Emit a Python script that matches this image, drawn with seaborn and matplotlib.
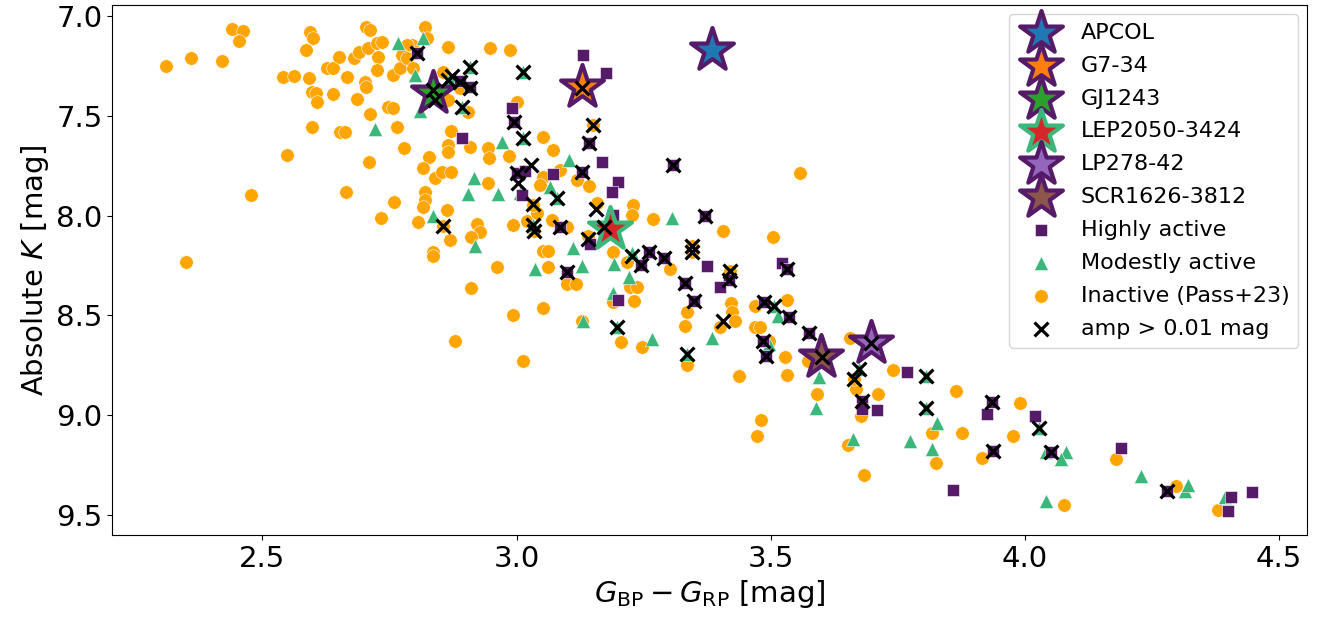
import numpy as np
import pandas as pd
import matplotlib
matplotlib.use("Agg")
import matplotlib.pyplot as plt
import seaborn as sns

# ---- data ----
inactive_bprp = [2.311, 2.359, 2.421, 2.441, 2.461, 2.453, 2.349, 2.478, 2.549, 2.541, 2.563, 2.592, 2.594, 2.600, 2.586,
                 2.598, 2.606, 2.608, 2.638, 2.598, 2.653, 2.663, 2.628, 2.638, 2.651, 2.667, 2.681, 2.689, 2.704, 2.712,
                 2.708, 2.726, 2.736, 2.728, 2.726, 2.702, 2.704, 2.687, 2.712, 2.748, 2.757, 2.765, 2.779, 2.710, 2.665,
                 2.759, 2.734, 2.806, 2.757, 2.771, 2.795, 2.820, 2.824, 2.785, 2.775, 2.785, 2.797, 2.856, 2.865, 2.948,
                 2.987, 2.889, 2.865, 2.905, 2.871, 2.865, 2.865, 2.909, 2.944, 2.946, 2.985, 3.052, 3.072, 2.828, 2.816,
                 2.840, 2.854, 2.871, 2.944, 2.820, 2.820, 2.816, 2.863, 2.922, 2.928, 2.911, 2.869, 2.836, 2.836, 2.962,
                 2.993, 3.052, 3.062, 3.062, 3.021, 3.040, 3.070, 3.052, 3.046, 3.085, 3.119, 3.142, 3.099, 3.001, 3.150,
                 3.032, 3.158, 3.229, 3.227, 3.268, 3.190, 3.217, 3.302, 3.140, 3.345, 3.345, 3.406, 3.504, 3.223, 3.237,
                 3.231, 3.099, 3.117, 3.190, 3.129, 3.335, 3.331, 3.421, 3.423, 3.429, 3.400, 3.469, 3.469, 3.478, 2.911,
                 2.993, 3.052, 2.879, 3.013, 3.205, 3.247, 3.335, 3.557, 3.531, 3.528, 3.531, 3.437, 3.655, 3.573, 3.590,
                 3.740, 3.865, 3.710, 3.667, 3.496, 3.480, 3.472, 3.677, 3.651, 3.683, 3.818, 3.824, 3.877, 3.915, 3.991,
                 3.977, 4.076, 4.180, 4.298, 4.380, 2.855, 3.663, 3.420, 3.034]
inactive_mk = [7.250, 7.210, 7.225, 7.065, 7.075, 7.125, 8.235, 7.895, 7.695, 7.305, 7.300, 7.310, 7.080, 7.110, 7.170,
               7.380, 7.385, 7.430, 7.390, 7.555, 7.580, 7.580, 7.260, 7.260, 7.205, 7.305, 7.210, 7.180, 7.055, 7.070,
               7.160, 7.135, 7.130, 7.205, 7.270, 7.330, 7.355, 7.415, 7.490, 7.455, 7.460, 7.555, 7.660, 7.730, 7.880,
               7.930, 8.015, 8.035, 7.295, 7.260, 7.145, 7.055, 7.110, 7.145, 7.195, 7.210, 7.260, 7.280, 7.155, 7.160,
               7.170, 7.360, 7.420, 7.480, 7.575, 7.645, 7.680, 7.655, 7.660, 7.710, 7.700, 7.605, 7.670, 7.705, 7.760,
               7.810, 7.780, 7.780, 7.835, 7.880, 7.920, 7.955, 7.970, 8.045, 8.085, 8.110, 8.125, 8.185, 8.205, 8.260,
               8.050, 8.180, 8.180, 8.260, 8.030, 7.985, 8.025, 7.805, 7.845, 7.770, 7.820, 7.850, 8.060, 7.430, 7.545,
               7.945, 7.935, 7.945, 7.995, 8.020, 8.185, 8.235, 8.270, 8.105, 8.155, 8.185, 8.080, 8.110, 8.360, 8.360,
               8.430, 8.345, 8.345, 8.435, 8.530, 8.485, 8.555, 8.440, 8.485, 8.530, 8.560, 8.455, 8.560, 8.560, 8.365,
               8.500, 8.465, 8.630, 8.730, 8.635, 8.660, 8.750, 7.785, 8.425, 8.710, 8.800, 8.805, 8.615, 8.730, 8.895,
               8.775, 8.880, 8.895, 8.870, 8.630, 9.025, 9.105, 9.005, 9.150, 9.300, 9.090, 9.240, 9.090, 9.215, 8.940,
               9.105, 9.450, 9.220, 9.355, 9.475, 8.055, 8.820, 8.280, 8.080]

modest_bprp = [2.767, 2.816, 2.722, 2.801, 2.810, 2.972, 3.103, 2.917, 2.905, 2.964, 3.007, 3.066, 2.836, 2.918, 3.111,
               3.036, 3.129, 3.192, 3.305, 3.221, 3.190, 3.131, 3.266, 3.384, 3.506, 3.514, 3.496, 3.594, 3.588, 3.661,
               3.773, 3.826, 3.818, 3.673, 3.806, 3.806, 4.028, 4.042, 4.081, 4.070, 4.042, 4.229, 4.315, 4.321, 4.394,
               3.013, 2.893, 3.013, 3.032, 3.080, 3.197, 3.335, 2.909, 2.869, 3.227]
modest_mk = [7.135, 7.110, 7.565, 7.295, 7.475, 7.630, 7.720, 7.810, 7.890, 7.890, 7.885, 7.855, 8.000, 8.155, 8.165,
             8.270, 8.255, 8.245, 8.015, 8.310, 8.390, 8.530, 8.620, 8.615, 8.455, 8.505, 8.645, 8.810, 8.965, 9.120,
             9.130, 9.040, 9.170, 8.770, 8.805, 8.965, 9.065, 9.185, 9.185, 9.220, 9.430, 9.305, 9.380, 9.350, 9.410,
             7.280, 7.455, 7.610, 8.050, 7.910, 8.560, 8.695, 7.255, 7.310, 8.190]

high_bprp = [2.805, 3.131, 3.176, 2.991, 2.995, 2.893, 3.142, 3.168, 3.307, 3.129, 3.072, 3.001, 3.017, 3.011, 3.199,
             3.188, 3.190, 3.085, 3.144, 3.260, 3.245, 3.290, 3.370, 3.374, 3.099, 3.331, 3.349, 3.417, 3.400, 3.199,
             3.522, 3.531, 3.486, 3.535, 3.484, 3.491, 3.575, 3.767, 3.679, 3.680, 3.708, 3.858, 3.936, 3.926, 3.938,
             4.019, 4.052, 4.188, 4.280, 4.406, 4.400, 4.447, 2.889, 2.909]
high_mk = [7.185, 7.195, 7.285, 7.460, 7.530, 7.610, 7.635, 7.730, 7.745, 7.780, 7.790, 7.785, 7.775, 7.895, 7.830,
           7.880, 7.995, 8.060, 8.145, 8.185, 8.250, 8.215, 8.000, 8.255, 8.285, 8.340, 8.430, 8.325, 8.360, 8.425,
           8.240, 8.270, 8.435, 8.510, 8.630, 8.705, 8.590, 8.785, 8.930, 8.970, 8.975, 9.375, 8.935, 8.995, 9.180,
           9.005, 9.185, 9.165, 9.380, 9.410, 9.480, 9.385, 7.325, 7.355]

amp_bprp = [2.805, 2.909, 2.873, 2.865, 2.889, 2.909, 2.836, 2.840, 2.893, 3.013, 3.129, 3.150, 3.013, 2.995, 3.142,
            3.028, 3.001, 3.003, 3.032, 3.080, 2.855, 3.032, 3.034, 3.085, 3.156, 3.172, 3.140, 3.129, 3.307, 3.370,
            3.227, 3.260, 3.245, 3.290, 3.345, 3.345, 3.420, 3.099, 3.331, 3.349, 3.417, 3.406, 3.197, 3.335, 3.531,
            3.486, 3.506, 3.535, 3.484, 3.491, 3.575, 3.600, 3.698, 3.663, 3.673, 3.679, 3.806, 3.806, 3.936, 3.938,
            4.028, 4.052, 4.280]
amp_mk = [7.185, 7.255, 7.300, 7.320, 7.330, 7.360, 7.370, 7.420, 7.455, 7.280, 7.360, 7.545, 7.610, 7.530, 7.635,
          7.745, 7.785, 7.835, 7.940, 7.910, 8.055, 8.050, 8.080, 8.060, 7.965, 8.060, 8.120, 7.780, 7.745, 8.000,
          8.205, 8.185, 8.250, 8.215, 8.155, 8.185, 8.280, 8.285, 8.340, 8.430, 8.325, 8.530, 8.560, 8.695, 8.270,
          8.435, 8.455, 8.510, 8.630, 8.705, 8.590, 8.710, 8.640, 8.820, 8.770, 8.930, 8.805, 8.965, 8.935, 9.180,
          9.065, 9.185, 9.380]

star_names = ["APCOL", "G7-34", "GJ1243", "LEP2050-3424", "LP278-42", "SCR1626-3812"]
star_bprp = [3.384, 3.129, 2.836, 3.184, 3.698, 3.598]
star_mk = [7.170, 7.355, 7.385, 8.070, 8.640, 8.710]
star_active = ["high", "high", "high", "modest", "high", "high"]

PURPLE = "#561b68"
GREEN = "#3bb77b"
ORANGE = "orange"
star_faces = ["tab:blue", "tab:orange", "tab:green", "tab:red", "tab:purple", "tab:brown"]

fig, ax = plt.subplots(figsize=(13.23, 6.19), dpi=100)
fig.subplots_adjust(left=0.085, right=0.988, top=0.992, bottom=0.136)

inactive = pd.DataFrame({"bprp": inactive_bprp, "mk": inactive_mk})
modest = pd.DataFrame({"bprp": modest_bprp, "mk": modest_mk})
high = pd.DataFrame({"bprp": high_bprp, "mk": high_mk})
amp = pd.DataFrame({"bprp": amp_bprp, "mk": amp_mk})

sns.scatterplot(data=inactive, x="bprp", y="mk", color=ORANGE, marker="o", s=95,
                edgecolor="white", linewidth=0.4, label="Inactive (Pass+23)", zorder=2, ax=ax)
sns.scatterplot(data=modest, x="bprp", y="mk", color=GREEN, marker="^", s=105,
                edgecolor="white", linewidth=0.4, label="Modestly active", zorder=3, ax=ax)
sns.scatterplot(data=high, x="bprp", y="mk", color=PURPLE, marker="s", s=85,
                edgecolor="white", linewidth=0.4, label="Highly active", zorder=4, ax=ax)

# named flare stars, edge coloured by activity class
for name, bx, my, act, fc in zip(star_names, star_bprp, star_mk, star_active, star_faces):
    ec = GREEN if act == "modest" else PURPLE
    ax.scatter([bx], [my], s=1050, marker="*", facecolor=fc, edgecolor=ec,
               linewidth=3.0, label=name, zorder=5)

sns.scatterplot(data=amp, x="bprp", y="mk", color="black", marker="x", s=100,
                linewidth=2.3, label="amp > 0.01 mag", zorder=6, ax=ax)

ax.set_xlim(2.205, 4.555)
ax.set_ylim(9.6, 6.945)
ax.set_xticks([2.5, 3.0, 3.5, 4.0, 4.5])
ax.set_yticks([7.0, 7.5, 8.0, 8.5, 9.0, 9.5])
ax.tick_params(labelsize=21)
ax.set_xlabel(r"$G_{\rm BP} - G_{\rm RP}$ [mag]", fontsize=21)
ax.set_ylabel(r"Absolute $K$ [mag]", fontsize=21)

handles, labels = ax.get_legend_handles_labels()
order = star_names + ["Highly active", "Modestly active", "Inactive (Pass+23)", "amp > 0.01 mag"]
hmap = dict(zip(labels, handles))
ax.legend([hmap[k] for k in order], order, loc="upper right", fontsize=16,
          labelspacing=0.58, borderaxespad=0.4)

fig.savefig("out.png", dpi=100)
